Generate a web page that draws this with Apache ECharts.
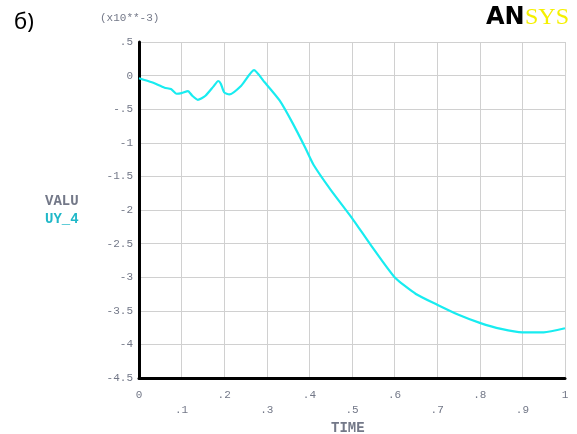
<!DOCTYPE html>
<html>
<head>
<meta charset="utf-8">
<script src="https://cdn.jsdelivr.net/npm/echarts@6/dist/echarts.min.js"></script>
<style>
  html, body { margin: 0; padding: 0; background: #fff; }
  #chart { width: 577px; height: 434px; }
</style>
</head>
<body>
<div id="chart"></div>
<script>
// TIME values and UY_4 (x10**-3)
var timeVals = [0, 0.03, 0.06, 0.075, 0.088, 0.1, 0.115, 0.125, 0.138, 0.156, 0.175, 0.186, 0.192, 0.2, 0.212, 0.24, 0.27, 0.295, 0.33, 0.36, 0.39, 0.41, 0.45, 0.5, 0.545, 0.6, 0.65, 0.7, 0.75, 0.8, 0.85, 0.9, 0.95, 1.0];
var uyVals = [-0.04, -0.1, -0.18, -0.2, -0.27, -0.26, -0.23, -0.3, -0.36, -0.3, -0.16, -0.08, -0.12, -0.25, -0.28, -0.15, 0.08, -0.1, -0.37, -0.7, -1.07, -1.33, -1.7, -2.12, -2.53, -3.0, -3.25, -3.41, -3.56, -3.68, -3.77, -3.82, -3.82, -3.76];

var points = timeVals.map(function (t, i) { return [t, uyVals[i]]; });

// ansys style numbers: .5, -.5, -1.5
function ansysNum(v) {
  var s = String(Math.round(v * 10) / 10);
  return s.replace(/^0\./, '.').replace(/^-0\./, '-.');
}

var labelFont = 'Liberation Mono';
var gray = '#737888';

var myChart = echarts.init(document.getElementById('chart'));
var option = {
  animation: false,
  grid: { left: 139, right: 12, top: 42, bottom: 56 },
  xAxis: {
    type: 'value',
    min: 0, max: 1, interval: 0.1,
    axisLine: { show: true, onZero: false, lineStyle: { color: '#000', width: 3 } },
    axisTick: { show: false },
    splitLine: { show: true, lineStyle: { color: '#d0d0d0', width: 1 } },
    axisLabel: {
      color: gray, fontFamily: labelFont, fontSize: 11, margin: 10, lineHeight: 15,
      formatter: function (v) {
        var i = Math.round(v * 10);
        var s = ansysNum(v);
        return i % 2 === 1 ? '\n' + s : s;
      }
    }
  },
  yAxis: {
    type: 'value',
    min: -4.5, max: 0.5, interval: 0.5,
    axisLine: { show: true, onZero: false, lineStyle: { color: '#000', width: 3 } },
    axisTick: { show: false },
    splitLine: { show: true, lineStyle: { color: '#d0d0d0', width: 1 } },
    axisLabel: {
      color: gray, fontFamily: labelFont, fontSize: 11, margin: 6,
      formatter: ansysNum
    }
  },
  graphic: [
    { type: 'text', left: 14, top: 12, style: { text: 'б)', font: '22px "Noto Sans", sans-serif', fill: '#000' } },
    { type: 'text', left: 100, top: 13, style: { text: '(x10**-3)', font: '11px "Liberation Mono", monospace', fill: gray } },
    { type: 'text', left: 45, top: 194, style: { text: 'VALU', font: 'bold 14px "Liberation Mono", monospace', fill: gray } },
    { type: 'text', left: 45, top: 212, style: { text: 'UY_4', font: 'bold 14px "Liberation Mono", monospace', fill: '#20b8c8' } },
    { type: 'text', left: 331, top: 421, style: { text: 'TIME', font: 'bold 14px "Liberation Mono", monospace', fill: gray } },
    { type: 'text', left: 486, top: 6, style: { text: 'AN', font: '900 24px "DejaVu Sans", sans-serif', fill: '#000' } },
    { type: 'text', left: 525, top: 6, style: { text: 'SYS', font: '24px "Liberation Serif", serif', fill: '#f5f000' } }
  ],
  series: [
    {
      type: 'line',
      data: points,
      showSymbol: false,
      smooth: 0.2,
      lineStyle: { color: '#18ecf0', width: 2.2 }
    }
  ]
};
myChart.setOption(option);
</script>
</body>
</html>
